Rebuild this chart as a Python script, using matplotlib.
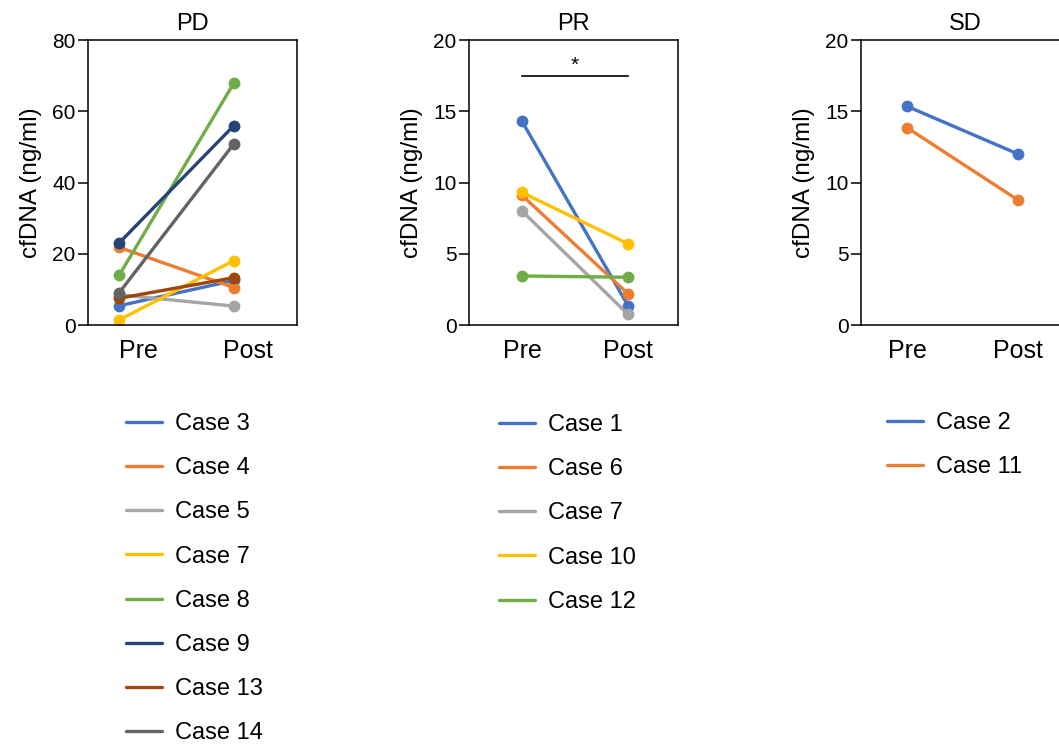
import numpy as np
import matplotlib.pyplot as plt

plt.rcParams['font.family'] = ['Liberation Sans', 'DejaVu Sans']

# colours (office palette)
c_blue = '#4472C4'
c_orange = '#ED7D31'
c_gray = '#A5A5A5'
c_yellow = '#FFC000'
c_green = '#70AD47'
c_navy = '#264478'
c_brown = '#9E480E'
c_dgray = '#636363'

time_labels = ['Pre', 'Post']

# PD group
pd_cases = ['Case 3', 'Case 4', 'Case 5', 'Case 7', 'Case 8', 'Case 9', 'Case 13', 'Case 14']
pd_pre = [5.4, 21.8, 8.5, 1.4, 13.9, 23.0, 7.5, 9.0]
pd_post = [12.5, 10.5, 5.3, 18.1, 68.0, 56.0, 13.3, 50.9]
pd_colors = [c_blue, c_orange, c_gray, c_yellow, c_green, c_navy, c_brown, c_dgray]

# PR group
pr_cases = ['Case 1', 'Case 6', 'Case 7', 'Case 10', 'Case 12']
pr_pre = [14.3, 9.1, 8.0, 9.3, 3.44]
pr_post = [1.36, 2.2, 0.75, 5.7, 3.35]
pr_colors = [c_blue, c_orange, c_gray, c_yellow, c_green]

# SD group
sd_cases = ['Case 2', 'Case 11']
sd_pre = [15.35, 13.85]
sd_post = [12.0, 8.77]
sd_colors = [c_blue, c_orange]

W, H = 1059, 747
fig = plt.figure(figsize=(W / 100, H / 100), dpi=100)


def make_panel(left_px, title, cases, pre, post, colors, ymax, yticks,
               xlim, xtick_pos, leg_x, leg_y):
    ax = fig.add_axes([left_px / W, 1 - 325 / H, 209 / W, 285 / H])
    handles = []
    for name, a, b, col in zip(cases, pre, post, colors):
        ax.plot([0, 1], [a, b], color=col, lw=2.4, marker='o', ms=7.5,
                solid_capstyle='round')
        h, = ax.plot([], [], color=col, lw=2.4, solid_capstyle='round', label=name)
        handles.append(h)
    ax.set_xlim(*xlim)
    ax.set_ylim(0, ymax)
    ax.set_yticks(yticks)
    ax.set_xticks(xtick_pos)
    ax.set_xticklabels(time_labels)
    ax.tick_params(axis='x', length=0, labelsize=18, pad=10)
    ax.tick_params(axis='y', length=7, width=1.1, labelsize=15, pad=2)
    for s in ax.spines.values():
        s.set_linewidth(1.1)
    ax.set_title(title, fontsize=17, pad=7)
    ax.set_ylabel('cfDNA (ng/ml)', fontsize=17.5, labelpad=7)
    fig.legend(handles=handles, loc='upper left',
               bbox_to_anchor=(leg_x / W, 1 - leg_y / H),
               frameon=False, fontsize=17, handlelength=1.53,
               handletextpad=0.55, labelspacing=0.94, borderaxespad=0,
               borderpad=0)
    return ax


make_panel(88, 'PD', pd_cases, pd_pre, pd_post, pd_colors, 80,
           [0, 20, 40, 60, 80], (-0.27, 1.548), [0.17, 1.12], 126, 413)

ax_pr = make_panel(469, 'PR', pr_cases, pr_pre, pr_post, pr_colors, 20,
                   [0, 5, 10, 15, 20], (-0.5, 1.472), [0, 1], 499, 414)
ax_pr.plot([0, 1], [17.5, 17.5], color='black', lw=1.2)
ax_pr.text(0.5, 17.55, '*', ha='center', va='bottom', fontsize=15)

make_panel(861, 'SD', sd_cases, sd_pre, sd_post, sd_colors, 20,
           [0, 5, 10, 15, 20], (-0.414, 1.468), [0, 1], 887, 412)

fig.savefig('out.png', dpi=100)
